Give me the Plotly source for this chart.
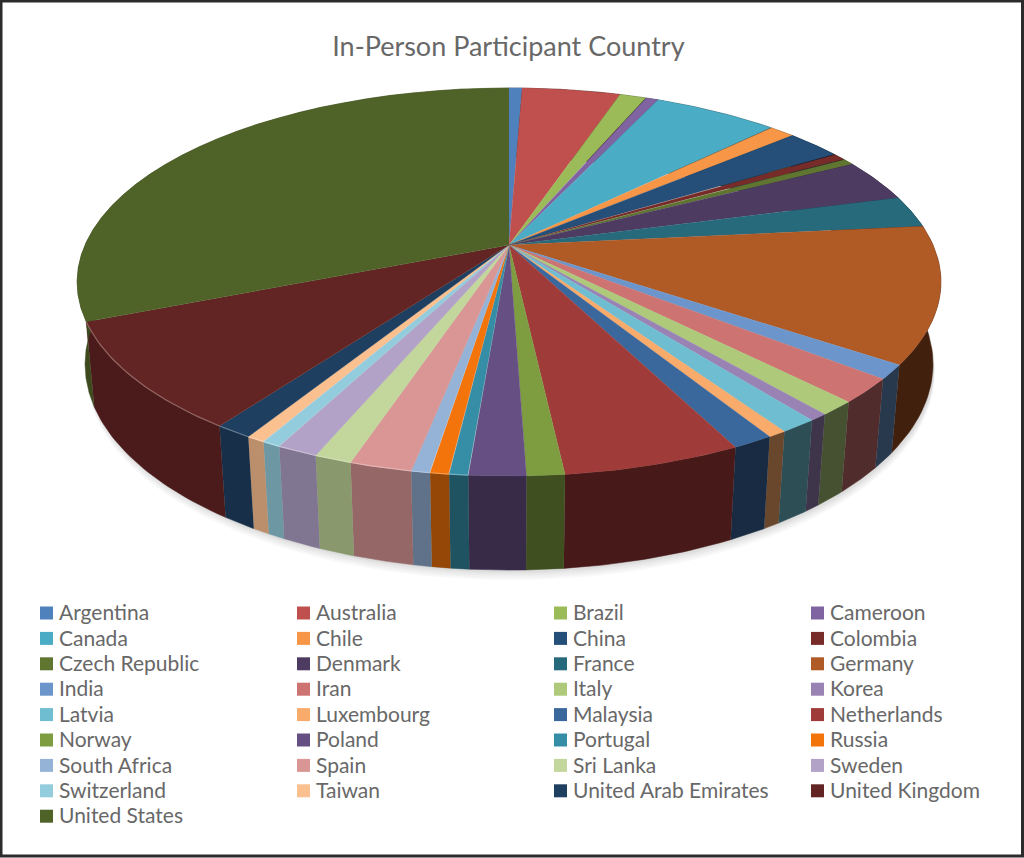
import numpy as np
import plotly.graph_objects as go

# paises y participantes
paises = ['Argentina', 'Australia', 'Brazil', 'Cameroon', 'Canada', 'Chile', 'China', 'Colombia',
          'Czech Republic', 'Denmark', 'France', 'Germany', 'India', 'Iran', 'Italy', 'Korea',
          'Latvia', 'Luxembourg', 'Malaysia', 'Netherlands', 'Norway', 'Poland', 'Portugal', 'Russia',
          'South Africa', 'Spain', 'Sri Lanka', 'Sweden', 'Switzerland', 'Taiwan',
          'United Arab Emirates', 'United Kingdom', 'United States']
participantes = [1, 7.5, 2, 1, 9.5, 2, 4.2, 1, 1, 6, 4.5, 19.2, 2, 3.4, 2, 1, 2, 1, 2.2, 9.5, 2, 3, 1, 1, 1, 3.3, 2,
                 2.2, 1, 1, 2, 15.3, 53]
colores = ['#4F81BD', '#C0504D', '#9BBB59', '#8064A2', '#4BACC6', '#F79646', '#254E78', '#772C2A',
           '#5F7530', '#4D3B62', '#276A7C', '#B05A26', '#6C96CB', '#CD7371', '#AFC97A', '#9983B5',
           '#6FBDD1', '#F9AB6B', '#3A679C', '#9F3B38', '#7E9C40', '#664F83', '#358EA6', '#F3740B',
           '#95B3D7', '#D99694', '#C3D69B', '#B2A2C7', '#93CDDD', '#FAC090', '#1F3F60', '#632523', '#4F6228']

titulo = 'In-Person Participant Country'
color_texto = '#686868'

# proyeccion del pastel (perspectiva, en pixeles de la pagina)
CX, CY = 509, 245
A, B, C = 0.1906, 187, 424
E, H = 0.018, 82


def proyectar(t, abajo=False):
    X, Y = np.sin(t), np.cos(t)
    den = 1 + A * Y + (E if abajo else 0)
    return CX + C * X / den, CY + (-B * Y + (H if abajo else 0)) / den


def hex_a_rgb(c):
    return [int(c[i:i + 2], 16) for i in (1, 3, 5)]


def oscurecer(c, f):
    return 'rgb(%d,%d,%d)' % tuple(v * f for v in hex_a_rgb(c))


def aclarar(c, f):
    return 'rgb(%d,%d,%d)' % tuple(v + (255 - v) * f for v in hex_a_rgb(c))


fig = go.Figure()

# sombra suave debajo del pastel
t_sombra = np.radians(np.linspace(0, 360, 240))
xs, ys = proyectar(t_sombra, abajo=True)
for d in [14, 11, 8, 5, 3]:
    fig.add_trace(go.Scatter(x=xs + 1.5, y=ys + d * 0.7, mode='lines', fill='toself', line=dict(width=0),
                             fillcolor='rgba(90,95,100,0.045)', hoverinfo='skip', showlegend=False))

fin = np.cumsum(participantes) / np.sum(participantes) * 2 * np.pi
inicio = np.concatenate([[0], fin[:-1]])

# costados, luego la cara de arriba
for p, n, col, t0, t1 in zip(paises, participantes, colores, inicio, fin):
    t = np.linspace(t0, t1, 30)
    medio = np.degrees((t0 + t1) / 2)
    f = np.interp(medio, [85, 125, 170, 185, 194, 210, 250], [0.36, 0.38, 0.46, 0.58, 0.69, 0.75, 0.76])
    x1, y1 = proyectar(t)
    x2, y2 = proyectar(t, abajo=True)
    fig.add_trace(go.Scatter(x=np.r_[x1, x2[::-1]], y=np.r_[y1, y2[::-1]], mode='lines', fill='toself',
                             line=dict(width=0.5, color=oscurecer(col, f)), fillcolor=oscurecer(col, f),
                             hoverinfo='skip', showlegend=False))

for p, n, col, t0, t1 in zip(paises, participantes, colores, inicio, fin):
    t = np.linspace(t0, t1, 30)
    x1, y1 = proyectar(t)
    fig.add_trace(go.Scatter(x=np.r_[CX, x1], y=np.r_[CY, y1], mode='lines', fill='toself', name=p,
                             line=dict(width=0.3, color=col), fillcolor=col, hoveron='fills',
                             text=f'{p}: {n}', hoverinfo='text', showlegend=False))

# brillo del borde frontal izquierdo
for col, t0, t1 in zip(colores, inicio, fin):
    if t1 > np.radians(186) and t0 < np.radians(245):
        t = np.linspace(t0, t1, 30)
        x1, y1 = proyectar(t)
        fig.add_trace(go.Scatter(x=x1, y=y1, mode='lines', line=dict(width=1.2, color=aclarar(col, 0.3)),
                                 hoverinfo='skip', showlegend=False))

# leyenda en 4 columnas
columna = np.arange(len(paises)) % 4
fila = np.arange(len(paises)) // 4
fig.add_trace(go.Scatter(x=46.5 + 257 * columna, y=613 + 25.4 * fila, mode='markers',
                         marker=dict(symbol='square', size=13, color=colores),
                         hoverinfo='skip', showlegend=False))
fig.add_trace(go.Scatter(x=59 + 257 * columna, y=615 + 25.4 * fila, mode='text', text=paises,
                         textposition='middle right',
                         textfont=dict(family='Lato', size=21, color=color_texto),
                         hoverinfo='skip', showlegend=False))

fig.update_layout(
    title=dict(text=titulo, x=0.4965, xanchor='center', y=0.9455, yanchor='middle',
               font=dict(family='Lato', size=27, color=color_texto)),
    width=1024, height=858,
    margin=dict(l=0, r=0, t=0, b=0),
    paper_bgcolor='white', plot_bgcolor='white',
    xaxis=dict(range=[0, 1024], visible=False),
    yaxis=dict(range=[858, 0], visible=False),
    showlegend=False,
    shapes=[dict(type='rect', xref='x', yref='y', x0=1, y0=1, x1=1022.5, y1=856,
                 line=dict(color='#2b2b2b', width=3))]
)

# sin margen del body para que la grafica llene la ventana
fig.write_html("out.html", config=dict(displayModeBar=False), post_script="document.body.style.margin='0';")
